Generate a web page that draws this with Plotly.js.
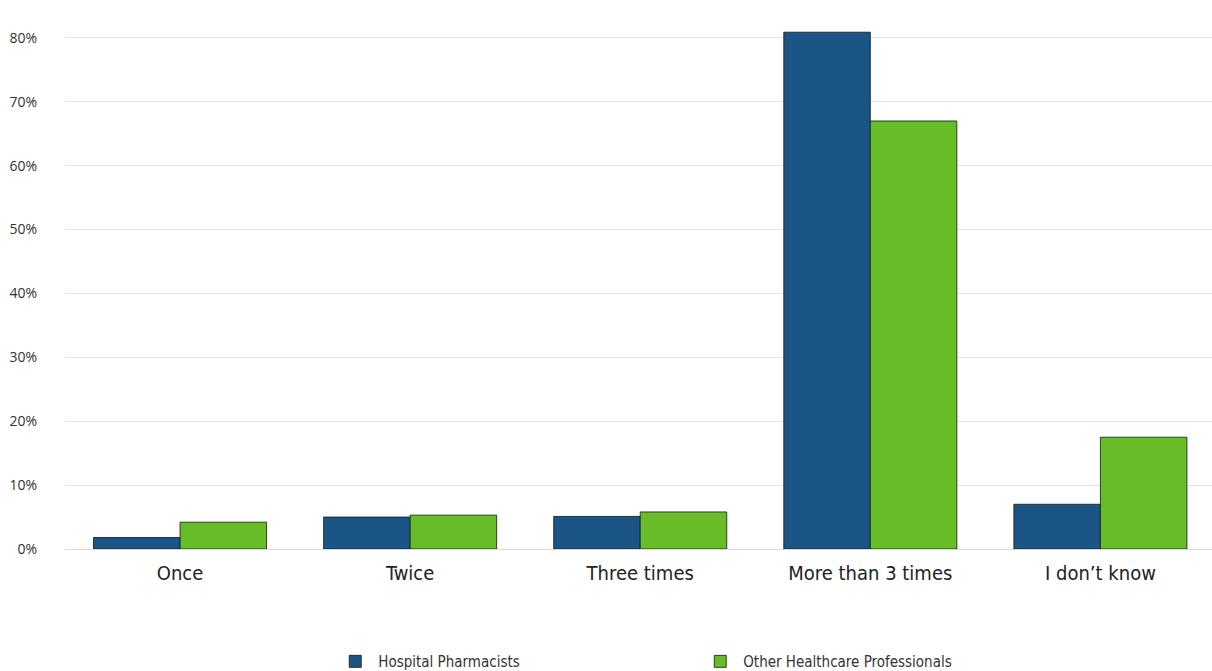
<!DOCTYPE html>
<html>
<head>
<meta charset="utf-8">
<script src="https://cdn.plot.ly/plotly-3.0.1.min.js"></script>
<style>html,body{margin:0;padding:0;background:#fff;}#chart{width:1212px;height:671px;}</style>
</head>
<body>
<div id="chart"></div>
<script>
const categories = ["Once", "Twice", "Three times", "More than 3 times", "I don\u2019t know"];
const hospitalPharmacists = [1.8, 5.0, 5.1, 80.9, 7.0];
const otherProfessionals = [4.2, 5.3, 5.8, 67.0, 17.5];
const seriesNames = ["Hospital Pharmacists", "Other Healthcare Professionals"];
const yTickVals = [0, 10, 20, 30, 40, 50, 60, 70, 80];
const yTickText = ["0%", "10%", "20%", "30%", "40%", "50%", "60%", "70%", "80%"];

const condensed = "'Liberation Sans Narrow', 'DejaVu Sans Condensed', 'Roboto', sans-serif";

const traces = [
  {
    type: "bar", name: seriesNames[0], x: categories, y: hospitalPharmacists,
    marker: {color: "#1B5586", line: {color: "rgba(20,30,30,0.85)", width: 1}},
    hoverinfo: "x+y"
  },
  {
    type: "bar", name: seriesNames[1], x: categories, y: otherProfessionals,
    marker: {color: "#68BC28", line: {color: "rgba(20,40,20,0.85)", width: 1}},
    hoverinfo: "x+y"
  }
];

const layout = {
  width: 1212, height: 671,
  margin: {l: 65, r: 0, t: 6, b: 122, autoexpand: false},
  paper_bgcolor: "#fff", plot_bgcolor: "#fff",
  barmode: "group", bargap: 0.248, bargroupgap: 0,
  showlegend: true,
  legend: {
    orientation: "h", x: 0.233, xanchor: "left", y: -0.177, yanchor: "top",
    entrywidth: 314, entrywidthmode: "pixels", itemwidth: 36,
    font: {family: condensed, size: 15, color: "#333"},
    traceorder: "normal"
  },
  xaxis: {
    type: "category", range: [-0.5, 4.485], showgrid: false, showline: false, zeroline: false,
    ticks: "", ticklabelstandoff: 10,
    tickfont: {family: condensed, size: 20, color: "#222"}
  },
  yaxis: {
    range: [0, 85], tickvals: yTickVals, ticktext: yTickText,
    showgrid: true, gridcolor: "#e3e3e3", gridwidth: 1,
    zeroline: true, zerolinecolor: "#d9d9d9", zerolinewidth: 1,
    showline: false, ticks: "", ticklabelstandoff: 27,
    tickfont: {family: "'Open Sans', 'DejaVu Sans', sans-serif", size: 14, color: "#333"}
  }
};

Plotly.newPlot("chart", traces, layout, {displayModeBar: false, staticPlot: true});
</script>
</body>
</html>
